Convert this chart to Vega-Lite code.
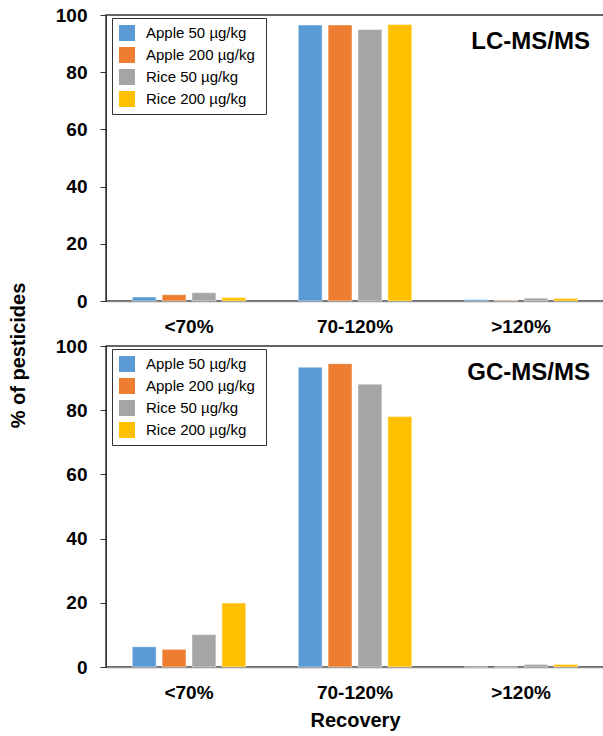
{
  "$schema": "https://vega.github.io/schema/vega-lite/v6.json",
  "padding": {"left": 7, "top": 5, "right": 0, "bottom": 5},
  "background": "white",
  "bounds": "flush",
  "spacing": 45,
  "datasets": {
    "lc": [
      {"range": "<70%", "series": "Apple  50 µg/kg", "value": 1.4},
      {"range": "<70%", "series": "Apple  200 µg/kg", "value": 2.2},
      {"range": "<70%", "series": "Rice 50 µg/kg", "value": 2.9},
      {"range": "<70%", "series": "Rice 200 µg/kg", "value": 1.2},
      {"range": "70-120%", "series": "Apple  50 µg/kg", "value": 96.5},
      {"range": "70-120%", "series": "Apple  200 µg/kg", "value": 96.5},
      {"range": "70-120%", "series": "Rice 50 µg/kg", "value": 94.9},
      {"range": "70-120%", "series": "Rice 200 µg/kg", "value": 96.7},
      {"range": ">120%", "series": "Apple  50 µg/kg", "value": 0.5},
      {"range": ">120%", "series": "Apple  200 µg/kg", "value": 0.2},
      {"range": ">120%", "series": "Rice 50 µg/kg", "value": 1.0},
      {"range": ">120%", "series": "Rice 200 µg/kg", "value": 0.9}
    ],
    "gc": [
      {"range": "<70%", "series": "Apple  50 µg/kg", "value": 6.3},
      {"range": "<70%", "series": "Apple  200 µg/kg", "value": 5.5},
      {"range": "<70%", "series": "Rice 50 µg/kg", "value": 10.1},
      {"range": "<70%", "series": "Rice 200 µg/kg", "value": 19.9},
      {"range": "70-120%", "series": "Apple  50 µg/kg", "value": 93.4},
      {"range": "70-120%", "series": "Apple  200 µg/kg", "value": 94.5},
      {"range": "70-120%", "series": "Rice 50 µg/kg", "value": 88.1},
      {"range": "70-120%", "series": "Rice 200 µg/kg", "value": 78.0},
      {"range": ">120%", "series": "Apple  50 µg/kg", "value": 0},
      {"range": ">120%", "series": "Apple  200 µg/kg", "value": 0},
      {"range": ">120%", "series": "Rice 50 µg/kg", "value": 0.8},
      {"range": ">120%", "series": "Rice 200 µg/kg", "value": 0.8}
    ]
  },
  "config": {
    "font": "Liberation Sans",
    "view": {"stroke": "#333333", "strokeWidth": 1.5},
    "axis": {
      "labelFont": "Liberation Sans",
      "labelFontWeight": "bold",
      "labelFontSize": 19,
      "labelColor": "#000000",
      "titleFont": "Liberation Sans",
      "titleFontWeight": "bold",
      "titleFontSize": 20,
      "titleColor": "#000000",
      "grid": false
    },
    "legend": {
      "labelFont": "Liberation Sans",
      "labelFontSize": 15,
      "labelColor": "#000000",
      "symbolType": "square",
      "symbolSize": 256,
      "symbolStrokeWidth": 0,
      "rowPadding": 6,
      "padding": 7,
      "labelOffset": 11,
      "strokeColor": "#333333",
      "fillColor": "white",
      "orient": "none",
      "legendX": 6,
      "legendY": 3,
      "title": null
    },
    "title": {"font": "Liberation Sans", "fontSize": 24, "fontWeight": "bold", "color": "#000000", "anchor": "end"}
  },
  "resolve": {"legend": {"color": "independent"}},
  "vconcat": [
    {
      "width": 498,
      "height": 286,
      "data": {"name": "lc"},
      "title": {"text": "LC-MS/MS", "offset": -48, "dx": -14},
      "mark": {"type": "bar", "stroke": "white", "strokeWidth": 0.8, "strokeOpacity": 0.6},
      "encoding": {
        "x": {
          "field": "range", "type": "nominal",
          "sort": ["<70%", "70-120%", ">120%"],
          "scale": {"paddingInner": 0.28, "paddingOuter": 0.14},
          "axis": {"title": null, "labelAngle": 0, "ticks": false, "labelPadding": 16, "domainColor": "#888888", "domainWidth": 1.5}
        },
        "xOffset": {
          "field": "series", "type": "nominal",
          "sort": ["Apple  50 µg/kg", "Apple  200 µg/kg", "Rice 50 µg/kg", "Rice 200 µg/kg"],
          "scale": {"paddingInner": 0.2, "paddingOuter": 0.1}
        },
        "y": {
          "field": "value", "type": "quantitative",
          "scale": {"domain": [0, 100], "nice": false},
          "axis": {"values": [0, 20, 40, 60, 80, 100], "title": "% of pesticides", "titleX": -78, "titleY": 340, "tickSize": 6, "tickColor": "#333333", "domainColor": "#333333", "labelPadding": 13}
        },
        "color": {
          "field": "series", "type": "nominal",
          "scale": {"domain": ["Apple  50 µg/kg", "Apple  200 µg/kg", "Rice 50 µg/kg", "Rice 200 µg/kg"], "range": ["#5B9BD5", "#ED7D31", "#A5A5A5", "#FFC000"]}
        }
      }
    },
    {
      "width": 498,
      "height": 321,
      "data": {"name": "gc"},
      "title": {"text": "GC-MS/MS", "offset": -48, "dx": -14},
      "mark": {"type": "bar", "stroke": "white", "strokeWidth": 0.8, "strokeOpacity": 0.6},
      "encoding": {
        "x": {
          "field": "range", "type": "nominal",
          "sort": ["<70%", "70-120%", ">120%"],
          "scale": {"paddingInner": 0.28, "paddingOuter": 0.14},
          "axis": {"title": "Recovery", "labelAngle": 0, "ticks": false, "labelPadding": 16, "titlePadding": 8, "domainColor": "#888888", "domainWidth": 1.5}
        },
        "xOffset": {
          "field": "series", "type": "nominal",
          "sort": ["Apple  50 µg/kg", "Apple  200 µg/kg", "Rice 50 µg/kg", "Rice 200 µg/kg"],
          "scale": {"paddingInner": 0.2, "paddingOuter": 0.1}
        },
        "y": {
          "field": "value", "type": "quantitative",
          "scale": {"domain": [0, 100], "nice": false},
          "axis": {"values": [0, 20, 40, 60, 80, 100], "title": null, "tickSize": 6, "tickColor": "#333333", "domainColor": "#333333", "labelPadding": 13}
        },
        "color": {
          "field": "series", "type": "nominal",
          "scale": {"domain": ["Apple  50 µg/kg", "Apple  200 µg/kg", "Rice 50 µg/kg", "Rice 200 µg/kg"], "range": ["#5B9BD5", "#ED7D31", "#A5A5A5", "#FFC000"]}
        }
      }
    }
  ]
}
